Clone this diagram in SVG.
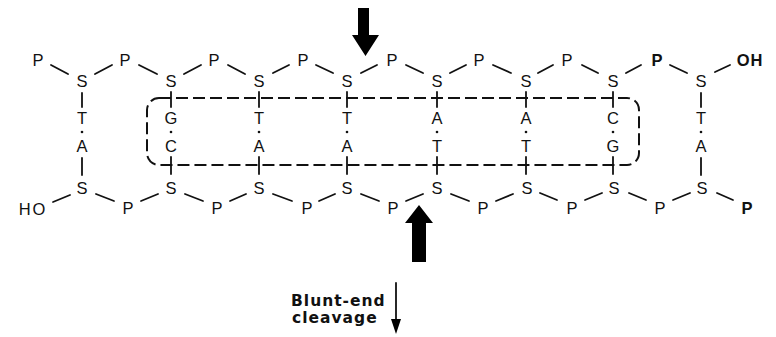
<svg xmlns="http://www.w3.org/2000/svg" width="776" height="337" viewBox="0 0 776 337">
<style>
text{font-family:"Liberation Sans",Arial,sans-serif;font-size:16.5px;fill:#111;text-anchor:middle}
.b{font-weight:bold}
.lab{font-family:"DejaVu Sans","Liberation Sans",sans-serif;font-size:15.5px;font-weight:bold;text-anchor:start;letter-spacing:1px}
line{stroke:#111;stroke-width:1.8;stroke-linecap:round}
.box{fill:none;stroke:#111;stroke-width:2;stroke-dasharray:12 5}
.arr{fill:#000}
</style>
<rect width="776" height="337" fill="#fff"/>
<g id="connectors">
<line x1="51" y1="65" x2="68" y2="74"/>
<line x1="95" y1="74" x2="112" y2="65"/>
<line x1="139" y1="65" x2="157" y2="74"/>
<line x1="184" y1="74" x2="201" y2="65"/>
<line x1="228" y1="65" x2="245" y2="74"/>
<line x1="273" y1="73" x2="289" y2="65"/>
<line x1="316" y1="65" x2="333" y2="73"/>
<line x1="361" y1="73" x2="377" y2="65"/>
<line x1="406" y1="65" x2="423" y2="73"/>
<line x1="450" y1="73" x2="466" y2="65"/>
<line x1="493" y1="65" x2="511" y2="73"/>
<line x1="538" y1="73" x2="553" y2="65"/>
<line x1="582" y1="65" x2="598" y2="73"/>
<line x1="626" y1="73" x2="641" y2="65"/>
<line x1="670" y1="65" x2="687" y2="73"/>
<line x1="715" y1="72" x2="730" y2="65"/>
<line x1="53" y1="202" x2="70" y2="195"/>
<line x1="96" y1="194" x2="114" y2="201"/>
<line x1="141" y1="201" x2="158" y2="194"/>
<line x1="185" y1="194" x2="203" y2="201"/>
<line x1="230" y1="201" x2="246" y2="194"/>
<line x1="273" y1="194" x2="292" y2="201"/>
<line x1="319" y1="201" x2="335" y2="194"/>
<line x1="361" y1="194" x2="379" y2="201"/>
<line x1="406" y1="201" x2="423" y2="194"/>
<line x1="451" y1="194" x2="469" y2="201"/>
<line x1="496" y1="201" x2="513" y2="194"/>
<line x1="540" y1="193" x2="557" y2="200"/>
<line x1="585" y1="200" x2="602" y2="193"/>
<line x1="629" y1="193" x2="646" y2="200"/>
<line x1="673" y1="200" x2="690" y2="193"/>
<line x1="717" y1="193" x2="733" y2="200"/>
<line x1="82" y1="93" x2="82" y2="107"/><line x1="82" y1="158" x2="82" y2="175"/>
<line x1="171" y1="92" x2="171" y2="107"/><line x1="171" y1="157" x2="171" y2="174"/>
<line x1="259" y1="92" x2="259" y2="107"/><line x1="259" y1="157" x2="259" y2="174"/>
<line x1="347" y1="92" x2="347" y2="107"/><line x1="347" y1="157" x2="347" y2="174"/>
<line x1="437" y1="92" x2="437" y2="107"/><line x1="437" y1="157" x2="437" y2="174"/>
<line x1="526" y1="92" x2="526" y2="107"/><line x1="526" y1="157" x2="526" y2="174"/>
<line x1="613" y1="92" x2="613" y2="107"/><line x1="613" y1="157" x2="613" y2="174"/>
<line x1="701" y1="93" x2="701" y2="107"/><line x1="701" y1="158" x2="701" y2="175"/>
<g fill="#111">
<circle cx="82" cy="132" r="1.3"/><circle cx="171" cy="132" r="1.3"/><circle cx="259" cy="132" r="1.3"/><circle cx="347" cy="132" r="1.3"/>
<circle cx="437" cy="132" r="1.3"/><circle cx="526" cy="132" r="1.3"/><circle cx="613" cy="132" r="1.3"/><circle cx="701" cy="132" r="1.3"/>
</g>
</g>
<g id="cut-box"><rect class="box" x="147" y="98" width="492" height="67" rx="12"/></g>
<g id="tP1"><text x="38" y="66">P</text></g>
<g id="tS1"><text x="82" y="87">S</text></g>
<g id="tP2"><text x="125" y="66">P</text></g>
<g id="tS2"><text x="171" y="87">S</text></g>
<g id="tP3"><text x="214" y="66">P</text></g>
<g id="tS3"><text x="259" y="87">S</text></g>
<g id="tP4"><text x="303" y="66">P</text></g>
<g id="tS4"><text x="347" y="87">S</text></g>
<g id="tP5"><text x="392" y="66">P</text></g>
<g id="tS5"><text x="437" y="87">S</text></g>
<g id="tP6"><text x="479" y="66">P</text></g>
<g id="tS6"><text x="526" y="87">S</text></g>
<g id="tP7"><text x="567" y="66">P</text></g>
<g id="tS7"><text x="613" y="87">S</text></g>
<g id="tP8"><text class="b" x="657" y="66">P</text></g>
<g id="tS8"><text x="701" y="87">S</text></g>
<g id="tOH"><text class="b" x="750" y="66" letter-spacing="1">OH</text></g>
<g id="b1t"><text x="82" y="124">T</text></g><g id="b1b"><text x="82" y="152">A</text></g>
<g id="b2t"><text x="171" y="124">G</text></g><g id="b2b"><text x="171" y="152">C</text></g>
<g id="b3t"><text x="259" y="124">T</text></g><g id="b3b"><text x="259" y="152">A</text></g>
<g id="b4t"><text x="347" y="124">T</text></g><g id="b4b"><text x="347" y="152">A</text></g>
<g id="b5t"><text x="437" y="124">A</text></g><g id="b5b"><text x="437" y="152">T</text></g>
<g id="b6t"><text x="526" y="124">A</text></g><g id="b6b"><text x="526" y="152">T</text></g>
<g id="b7t"><text x="613" y="124">C</text></g><g id="b7b"><text x="613" y="152">G</text></g>
<g id="b8t"><text x="701" y="124">T</text></g><g id="b8b"><text x="701" y="152">A</text></g>
<g id="bHO"><text x="33" y="215" letter-spacing="2">HO</text></g>
<g id="bS1"><text x="82" y="194">S</text></g>
<g id="bP1"><text x="128" y="214">P</text></g>
<g id="bS2"><text x="171" y="194">S</text></g>
<g id="bP2"><text x="217" y="214">P</text></g>
<g id="bS3"><text x="259" y="194">S</text></g>
<g id="bP3"><text x="307" y="214">P</text></g>
<g id="bS4"><text x="347" y="194">S</text></g>
<g id="bP4"><text x="393" y="214">P</text></g>
<g id="bS5"><text x="437" y="194">S</text></g>
<g id="bP5"><text x="483" y="214">P</text></g>
<g id="bS6"><text x="527" y="194">S</text></g>
<g id="bP6"><text x="572" y="214">P</text></g>
<g id="bS7"><text x="614" y="194">S</text></g>
<g id="bP7"><text x="660" y="214">P</text></g>
<g id="bS8"><text x="702" y="194">S</text></g>
<g id="bP8"><text class="b" x="747" y="214">P</text></g>
<g id="arrow-top"><polygon class="arr" points="358,8 369,8 369,35 379,35 365.5,56 352,35 358,35"/></g>
<g id="arrow-bottom"><polygon class="arr" points="419,205 433,223 426,223 426,262 412,262 412,223 405,223"/></g>
<g id="blunt-arrow">
<line x1="396" y1="283" x2="396" y2="322" stroke-width="1.6"/>
<polygon class="arr" points="391,319 401,319 396,334"/>
</g>
<g id="label"><text class="lab" x="291" y="306">Blunt-end</text><text class="lab" x="292" y="323">cleavage</text></g>
</svg>
